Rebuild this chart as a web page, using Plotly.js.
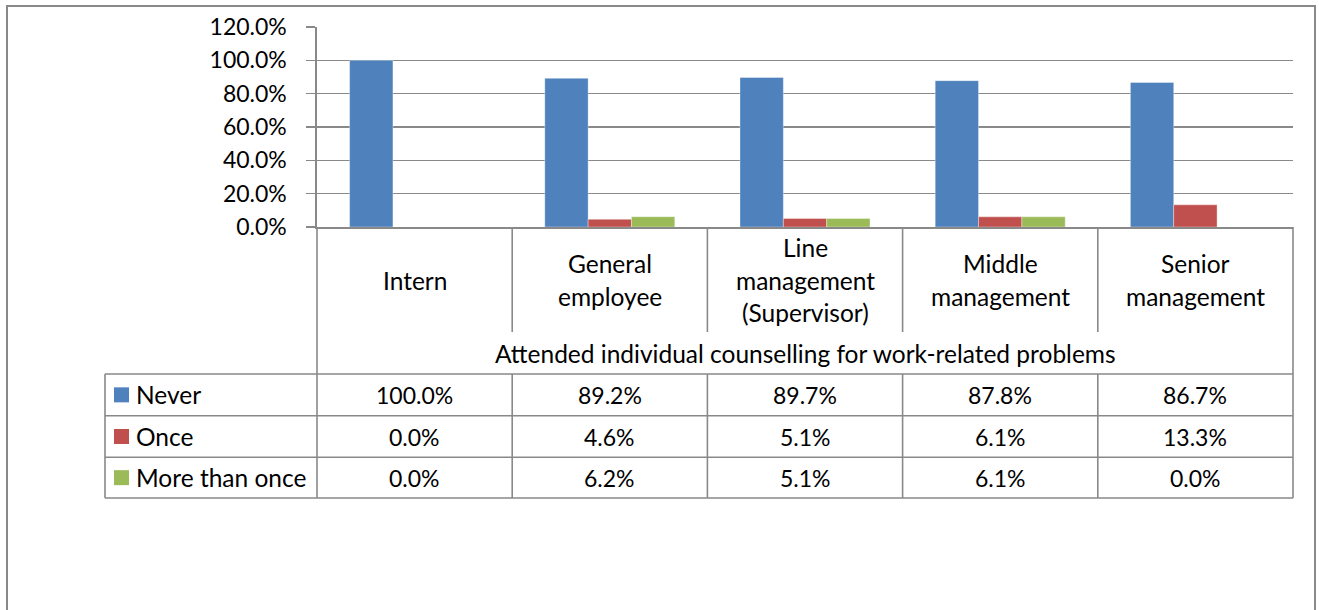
<!DOCTYPE html>
<html>
<head>
<meta charset="utf-8">
<script src="https://cdn.plot.ly/plotly-3.0.1.min.js"></script>
<style>html,body{margin:0;padding:0;background:#fff;}#chart{width:1319px;height:610px;}</style>
</head>
<body>
<div id="chart"></div>
<script>
// ---- data ----
const categories = ["Intern", "General employee", "Line management (Supervisor)", "Middle management", "Senior management"];
const categoryLines = [["Intern"], ["General", "employee"], ["Line", "management", "(Supervisor)"], ["Middle", "management"], ["Senior", "management"]];
const seriesNames = ["Never", "Once", "More than once"];
const never = [1.000, 0.892, 0.897, 0.878, 0.867];
const once = [0.000, 0.046, 0.051, 0.061, 0.133];
const moreThanOnce = [0.000, 0.062, 0.051, 0.061, 0.000];
const groupTitle = "Attended individual counselling for work-related problems";
const yTicks = [0, 0.2, 0.4, 0.6, 0.8, 1.0, 1.2];

// ---- style ----
const colors = ["#4F81BD", "#C0504D", "#9BBB59"];
const grid = "#898989";
const FONT = "Lato, 'Open Sans', sans-serif";
const FS = 24.5;   // words
const FN = 23;     // numbers
const W = 1319, H = 610, L = 317, R = 1293, T = 27, B = 227;
const px = p => (p - L) / (R - L);
const py = p => (B - p) / (B - T);

const values = [never, once, moreThanOnce];
const traces = values.map((v, i) => ({
  type: "bar", x: categories, y: v, name: seriesNames[i],
  marker: {color: colors[i], line: {color: "rgba(255,255,255,0.35)", width: 1}},
  hoverinfo: "x+y+name"
}));

const shapes = [];
const ann = [];
function line(x0, y0, x1, y1, xref) {
  shapes.push({type: "line", xref: xref || "paper", yref: "paper", x0: x0, x1: x1, y0: py(y0), y1: py(y1),
    line: {color: grid, width: 1.6}});
}
// outer chart border
shapes.push({type: "rect", xref: "paper", yref: "paper", x0: px(7), x1: px(1315), y0: py(6), y1: py(640),
  line: {color: grid, width: 2}, fillcolor: "rgba(0,0,0,0)"});

// table geometry (pixels)
const rowTops = [374, 415.7, 457.3, 498];
// outer verticals
shapes.push({type: "line", xref: "paper", yref: "paper", x0: 0, x1: 0, y0: py(B), y1: py(498), line: {color: grid, width: 1.6}});
shapes.push({type: "line", xref: "paper", yref: "paper", x0: 1, x1: 1, y0: py(B), y1: py(498), line: {color: grid, width: 1.6}});
// legend column left edge
line(px(105), 374, px(105), 498);
// category separators
for (let k = 0; k < categories.length - 1; k++) {
  const xc = k + 0.5;
  shapes.push({type: "line", xref: "x", yref: "paper", x0: xc, x1: xc, y0: py(B), y1: py(332), line: {color: grid, width: 1.6}});
  shapes.push({type: "line", xref: "x", yref: "paper", x0: xc, x1: xc, y0: py(374), y1: py(498), line: {color: grid, width: 1.6}});
}
// horizontal table lines
rowTops.forEach(yy => line(px(105), yy, 1, yy));

// category labels
const lineGap = 32.5;
categoryLines.forEach((lines, k) => {
  const n = lines.length;
  lines.forEach((t, j) => {
    const yc = 280 + (j - (n - 1) / 2) * lineGap;
    ann.push({xref: "x", yref: "paper", x: k, y: py(yc), text: t, showarrow: false,
      xanchor: "center", yanchor: "middle", font: {family: FONT, size: FS, color: "#000"}});
  });
});
// group title
ann.push({xref: "paper", yref: "paper", x: 0.5, y: py(353), text: groupTitle, showarrow: false,
  xanchor: "center", yanchor: "middle", font: {family: FONT, size: FS, color: "#000"}});

// table rows
seriesNames.forEach((name, i) => {
  const yc = (rowTops[i] + rowTops[i + 1]) / 2;
  shapes.push({type: "rect", xref: "paper", yref: "paper", x0: px(114), x1: px(129), y0: py(yc - 7.5), y1: py(yc + 7.5),
    fillcolor: colors[i], line: {width: 0}});
  ann.push({xref: "paper", yref: "paper", x: px(134), y: py(yc), text: name, showarrow: false,
    xanchor: "left", yanchor: "middle", font: {family: FONT, size: FS, color: "#000"}});
  values[i].forEach((v, k) => {
    ann.push({xref: "x", yref: "paper", x: k, y: py(yc), text: (v * 100).toFixed(1) + "%", showarrow: false,
      xanchor: "center", yanchor: "middle", font: {family: FONT, size: FN, color: "#000"}});
  });
});

const layout = {
  width: W, height: H,
  margin: {l: L, r: W - R, t: T, b: H - B, pad: 0},
  paper_bgcolor: "#fff", plot_bgcolor: "#fff",
  showlegend: false,
  barmode: "group", bargap: 0.334, bargroupgap: 0,
  font: {family: FONT, size: FS, color: "#000"},
  xaxis: {type: "category", range: [-0.5, 4.5], showticklabels: false, showgrid: false,
    showline: true, linecolor: grid, linewidth: 1.6, ticks: "", zeroline: false, fixedrange: true},
  yaxis: {range: [0, 1.2], tickvals: yTicks, tickformat: ".1%", showgrid: true, gridcolor: grid, gridwidth: 1.6,
    showline: true, linecolor: grid, linewidth: 1.6, ticks: "outside", ticklen: 9, tickcolor: grid, tickwidth: 1.6,
    ticklabelstandoff: 15, zeroline: false, fixedrange: true,
    tickfont: {family: FONT, size: FN, color: "#000"}},
  shapes: shapes,
  annotations: ann
};
Plotly.newPlot("chart", traces, layout, {displayModeBar: false, staticPlot: true});
</script>
</body>
</html>
